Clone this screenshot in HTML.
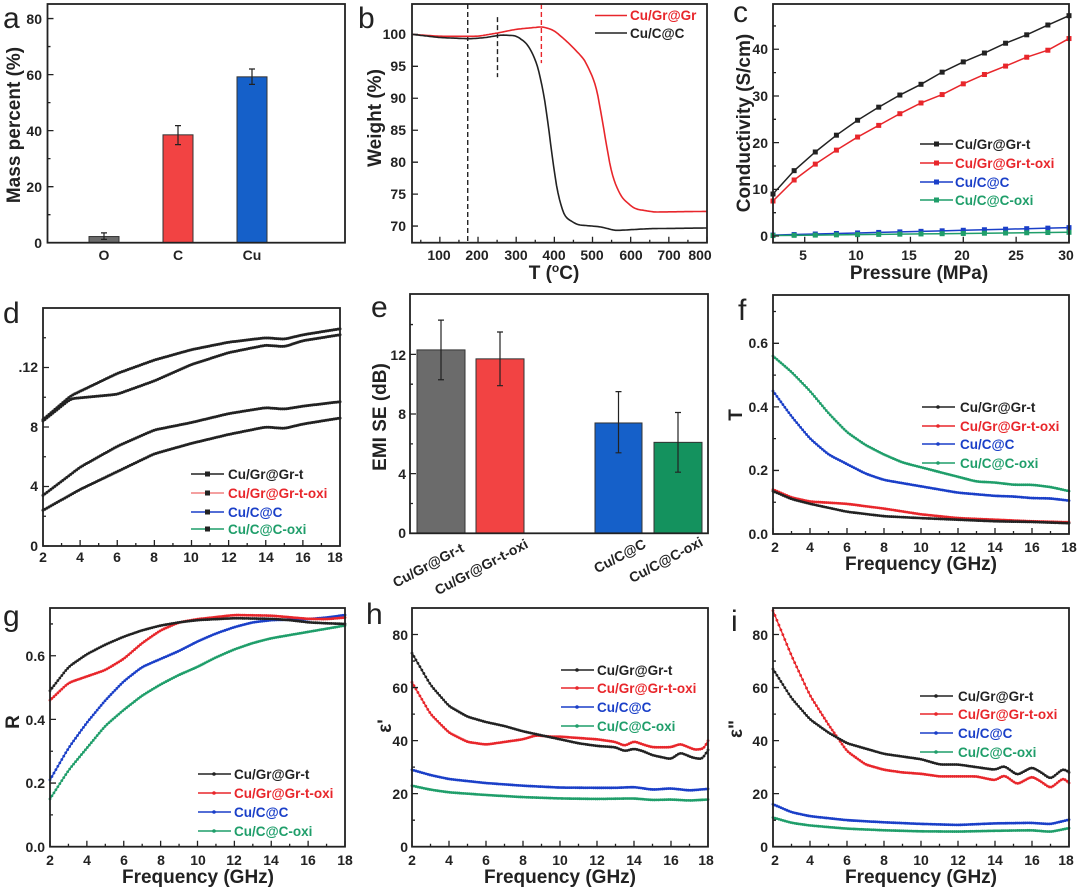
<!DOCTYPE html>
<html><head><meta charset="utf-8"><style>
html,body{margin:0;padding:0;background:#fff;}
svg{display:block;font-family:"Liberation Sans",Arial,sans-serif;}
.t{font-size:14px;font-weight:bold;fill:#222;}
.ti{font-size:19px;font-weight:bold;fill:#222;}
.L{font-size:30px;fill:#222;}
.lg{font-size:13.5px;font-weight:bold;}
</style></head><body>
<svg id="s" width="1080" height="889" viewBox="0 0 1080 889" xmlns="http://www.w3.org/2000/svg">
<rect width="1080" height="889" fill="#fff"/>
<!-- panel a -->
<text class="L" x="3" y="28">a</text>
<g class="t" text-anchor="end"><text x="42" y="248">0</text><text x="42" y="192">20</text><text x="42" y="136">40</text><text x="42" y="80">60</text><text x="42" y="24">80</text></g>
<g class="t" text-anchor="middle"><text x="104" y="260">O</text><text x="178" y="260">C</text><text x="252" y="260">Cu</text></g>
<text class="ti" transform="translate(20,125) rotate(-90)" text-anchor="middle">Mass percent (%)</text>
<!-- panel b -->
<text class="L" x="358" y="28">b</text>
<g class="t" text-anchor="end"><text x="406" y="39">100</text><text x="406" y="71">95</text><text x="406" y="103">90</text><text x="406" y="135">85</text><text x="406" y="167">80</text><text x="406" y="199">75</text><text x="406" y="231">70</text></g>
<g class="t" text-anchor="middle"><text x="439" y="260">100</text><text x="477" y="260">200</text><text x="516" y="260">300</text><text x="554" y="260">400</text><text x="592" y="260">500</text><text x="631" y="260">600</text><text x="669" y="260">700</text><text x="700" y="260">800</text></g>
<text class="ti" x="554" y="279" text-anchor="middle">T (<tspan font-size="12" dy="-7">o</tspan><tspan dy="7">C)</tspan></text>
<text class="ti" transform="translate(381,118) rotate(-90)" text-anchor="middle">Weight (%)</text>
<text class="lg" x="630" y="20" fill="#e8262b">Cu/Gr@Gr</text>
<text class="lg" x="630" y="38" fill="#222">Cu/C@C</text>
<!-- panel c -->
<text class="L" x="733" y="22">c</text>
<g class="t" text-anchor="end"><text x="768" y="241">0</text><text x="768" y="194">10</text><text x="768" y="148">20</text><text x="768" y="101">30</text><text x="768" y="54">40</text></g>
<g class="t" text-anchor="middle"><text x="803" y="260">5</text><text x="856" y="260">10</text><text x="909" y="260">15</text><text x="962" y="260">20</text><text x="1016" y="260">25</text><text x="1066" y="260">30</text></g>
<text class="ti" x="919" y="279" text-anchor="middle">Pressure (MPa)</text>
<text class="ti" transform="translate(750,123) rotate(-90)" text-anchor="middle">Conductivity (S/cm)</text>
<text class="lg" x="955" y="149" fill="#222">Cu/Gr@Gr-t</text>
<text class="lg" x="955" y="168" fill="#e8262b">Cu/Gr@Gr-t-oxi</text>
<text class="lg" x="955" y="187" fill="#1a3fc8">Cu/C@C</text>
<text class="lg" x="955" y="205" fill="#1f9e6a">Cu/C@C-oxi</text>
<!-- panel d -->
<text class="L" x="3" y="323">d</text>
<g class="t" text-anchor="end"><text x="38" y="551">0</text><text x="38" y="491">4</text><text x="38" y="432">8</text><text x="38" y="372">.12</text></g>
<g class="t" text-anchor="middle"><text x="43" y="562">2</text><text x="80" y="562">4</text><text x="117" y="562">6</text><text x="154" y="562">8</text><text x="191" y="562">10</text><text x="229" y="562">12</text><text x="266" y="562">14</text><text x="303" y="562">16</text><text x="335" y="562">18</text></g>
<text class="lg" x="228" y="479" fill="#222">Cu/Gr@Gr-t</text>
<text class="lg" x="228" y="498" fill="#e8262b">Cu/Gr@Gr-t-oxi</text>
<text class="lg" x="228" y="517" fill="#1a3fc8">Cu/C@C</text>
<text class="lg" x="228" y="534" fill="#1f9e6a">Cu/C@C-oxi</text>
<!-- panel e -->
<text class="L" x="371" y="317">e</text>
<g class="t" text-anchor="end"><text x="406" y="538">0</text><text x="406" y="479">4</text><text x="406" y="419">8</text><text x="406" y="360">12</text></g>
<text class="ti" transform="translate(386,417) rotate(-90)" text-anchor="middle">EMI SE (dB)</text>
<g class="t" text-anchor="end">
<text transform="translate(465,551) rotate(-28)">Cu/Gr@Gr-t</text>
<text transform="translate(529,547) rotate(-28)">Cu/Gr@Gr-t-oxi</text>
<text transform="translate(647,547) rotate(-28)">Cu/C@C</text>
<text transform="translate(704,545) rotate(-28)">Cu/C@C-oxi</text></g>
<!-- panel f -->
<text class="L" x="738" y="320">f</text>
<g class="t" text-anchor="end"><text x="768" y="539">0.0</text><text x="768" y="475">0.2</text><text x="768" y="412">0.4</text><text x="768" y="348">0.6</text></g>
<g class="t" text-anchor="middle"><text x="775" y="552">2</text><text x="810" y="552">4</text><text x="847" y="552">6</text><text x="884" y="552">8</text><text x="921" y="552">10</text><text x="958" y="552">12</text><text x="995" y="552">14</text><text x="1032" y="552">16</text><text x="1069" y="552">18</text></g>
<text class="ti" x="921" y="570" text-anchor="middle">Frequency (GHz)</text>
<text class="ti" transform="translate(742,415) rotate(-90)" text-anchor="middle">T</text>
<text class="lg" x="960" y="412" fill="#222">Cu/Gr@Gr-t</text>
<text class="lg" x="960" y="431" fill="#e8262b">Cu/Gr@Gr-t-oxi</text>
<text class="lg" x="960" y="449" fill="#1a3fc8">Cu/C@C</text>
<text class="lg" x="960" y="468" fill="#1f9e6a">Cu/C@C-oxi</text>
<!-- panel g -->
<text class="L" x="3" y="626">g</text>
<g class="t" text-anchor="end"><text x="45" y="852">0.0</text><text x="45" y="788">0.2</text><text x="45" y="725">0.4</text><text x="45" y="661">0.6</text></g>
<g class="t" text-anchor="middle"><text x="50" y="865">2</text><text x="87" y="865">4</text><text x="124" y="865">6</text><text x="161" y="865">8</text><text x="198" y="865">10</text><text x="234" y="865">12</text><text x="271" y="865">14</text><text x="308" y="865">16</text><text x="345" y="865">18</text></g>
<text class="ti" x="198" y="883" text-anchor="middle">Frequency (GHz)</text>
<text class="ti" transform="translate(19,722) rotate(-90)" text-anchor="middle">R</text>
<text class="lg" x="234" y="779" fill="#222">Cu/Gr@Gr-t</text>
<text class="lg" x="234" y="798" fill="#e8262b">Cu/Gr@Gr-t-oxi</text>
<text class="lg" x="234" y="817" fill="#1a3fc8">Cu/C@C</text>
<text class="lg" x="234" y="836" fill="#1f9e6a">Cu/C@C-oxi</text>
<!-- panel h -->
<text class="L" x="366" y="624">h</text>
<g class="t" text-anchor="end"><text x="408" y="852">0</text><text x="408" y="799">20</text><text x="408" y="746">40</text><text x="408" y="693">60</text><text x="408" y="640">80</text></g>
<g class="t" text-anchor="middle"><text x="412" y="865">2</text><text x="449" y="865">4</text><text x="486" y="865">6</text><text x="523" y="865">8</text><text x="560" y="865">10</text><text x="597" y="865">12</text><text x="634" y="865">14</text><text x="671" y="865">16</text><text x="706" y="865">18</text></g>
<text class="ti" x="560" y="883" text-anchor="middle">Frequency (GHz)</text>
<text class="ti" transform="translate(391,726) rotate(-90)" text-anchor="middle">ε'</text>
<text class="lg" x="597" y="675" fill="#222">Cu/Gr@Gr-t</text>
<text class="lg" x="597" y="693" fill="#e8262b">Cu/Gr@Gr-t-oxi</text>
<text class="lg" x="597" y="712" fill="#1a3fc8">Cu/C@C</text>
<text class="lg" x="597" y="731" fill="#1f9e6a">Cu/C@C-oxi</text>
<!-- panel i -->
<text class="L" x="731" y="631">i</text>
<g class="t" text-anchor="end"><text x="768" y="852">0</text><text x="768" y="799">20</text><text x="768" y="746">40</text><text x="768" y="693">60</text><text x="768" y="640">80</text></g>
<g class="t" text-anchor="middle"><text x="775" y="865">2</text><text x="810" y="865">4</text><text x="847" y="865">6</text><text x="884" y="865">8</text><text x="921" y="865">10</text><text x="958" y="865">12</text><text x="995" y="865">14</text><text x="1032" y="865">16</text><text x="1066" y="865">18</text></g>
<text class="ti" x="921" y="883" text-anchor="middle">Frequency (GHz)</text>
<text class="ti" transform="translate(742,729) rotate(-90)" text-anchor="middle">ε"</text>
<text class="lg" x="958" y="701" fill="#222">Cu/Gr@Gr-t</text>
<text class="lg" x="958" y="719" fill="#e8262b">Cu/Gr@Gr-t-oxi</text>
<text class="lg" x="958" y="738" fill="#1a3fc8">Cu/C@C</text>
<text class="lg" x="958" y="757" fill="#1f9e6a">Cu/C@C-oxi</text>
</svg>
<script>
const NS="http://www.w3.org/2000/svg",S=document.getElementById('s');
function el(t,a){const e=document.createElementNS(NS,t);for(const k in a)e.setAttribute(k,a[k]);S.appendChild(e);return e;}
const K="#222",R="#e8262b",B="#1a3fc8",G="#1f9e6a";
function mk(x0,x1,y0,y1,xa,xb,ya,yb){return{x0,x1,y0,y1,xa,xb,ya,yb,sx:v=>x0+(v-xa)/(xb-xa)*(x1-x0),sy:v=>y1-(v-ya)/(yb-ya)*(y1-y0)};}
function frame(P,xt,yt,xm,ym){
 const g=[];
 (xt||[]).forEach(v=>g.push(`M${P.sx(v)},${P.y1}v-6`));
 (xm||[]).forEach(v=>g.push(`M${P.sx(v)},${P.y1}v-3`));
 (yt||[]).forEach(v=>g.push(`M${P.x0},${P.sy(v)}h6`));
 (ym||[]).forEach(v=>g.push(`M${P.x0},${P.sy(v)}h3`));
 el('path',{d:g.join(''),stroke:K,'stroke-width':1.3,fill:'none'});
 el('rect',{x:P.x0,y:P.y0,width:P.x1-P.x0,height:P.y1-P.y0,fill:'none',stroke:K,'stroke-width':1.8});
}
function interp(p,x){for(let i=0;i<p.length-1;i++){if(x<=p[i+1][0]){const t=(x-p[i][0])/(p[i+1][0]-p[i][0]);return p[i][1]+t*(p[i+1][1]-p[i][1]);}}return p[p.length-1][1];}
function curve(P,pts,col,o){
 o=o||{};const n=o.n||150,xa=pts[0][0],xb=pts[pts.length-1][0];let v=[];
 for(let i=0;i<=n;i++){const x=xa+(xb-xa)*i/n;v.push([x,interp(pts,x)]);}
 for(let p=0;p<(o.sm==null?4:o.sm);p++){v=v.map((q,i)=>i==0||i==v.length-1?q:[q[0],(v[i-1][1]+q[1]*2+v[i+1][1])/4]);}
 const d=v.map((q,i)=>(i?'L':'M')+P.sx(q[0]).toFixed(1)+','+P.sy(q[1]).toFixed(1)).join('');
 el('path',{d,stroke:o.lc||col,'stroke-width':o.w||1.3,fill:'none'});
 if(o.mk!==false){v.forEach(q=>el('circle',{cx:P.sx(q[0]),cy:P.sy(q[1]),r:o.r||1.4,fill:o.mc||col}));}
}
function leg(x,ys,cols,mc,sq){ys.forEach((y,i)=>{el('line',{x1:x,x2:x+33,y1:y,y2:y,stroke:cols[i],'stroke-width':1.5});
 if(sq)el('rect',{x:x+14,y:y-2.5,width:5,height:5,fill:mc?mc:cols[i]});else el('circle',{cx:x+16,cy:y,r:1.8,fill:mc?mc:cols[i]});});}

// a
let P=mk(47.5,345,4,242.7,0,1,0,85.2);
function bar(P,cx,w,v,e1,e2,col){el('rect',{x:cx-w/2,y:P.sy(v),width:w,height:P.y1-P.sy(v),fill:col,stroke:'#333','stroke-width':1});
 el('path',{d:`M${cx},${P.sy(e1)}V${P.sy(e2)}M${cx-3},${P.sy(e1)}h6M${cx-3},${P.sy(e2)}h6`,stroke:'#222','stroke-width':1.2,fill:'none'});}
bar(P,104,30,2.2,1.2,3.5,'#6b6b6b');bar(P,178,30,38.5,35,41.8,'#f24343');bar(P,252,30,59.2,56.5,62,'#1560c9');
frame(P,[],[0,20,40,60,80],[],[10,30,50,70]);
// b
P=mk(412,707,4,242.7,27,800,67.4,104.75);
el('path',{d:`M${P.sx(173)},${P.y0}V${P.y1}M${P.sx(251)},${P.sy(102.7)}V${P.sy(93.3)}`,stroke:K,'stroke-width':1.4,'stroke-dasharray':'5,3',fill:'none'});
el('path',{d:`M${P.sx(366)},${P.y0}V${P.sy(95.5)}`,stroke:R,'stroke-width':1.4,'stroke-dasharray':'5,3',fill:'none'});
curve(P,[[27,100],[100,99.7],[200,99.7],[250,100.2],[300,100.8],[370,101.2],[400,100.6],[440,98.5],[480,96],[510,92],[530,85],[550,78],[575,74.5],[610,72.7],[660,72.2],[800,72.3]],R,{mk:false,w:1.6,n:200,sm:6});
curve(P,[[27,100],[100,99.5],[180,99.3],[220,99.5],[260,99.9],[300,99.8],[330,98.5],[355,95.5],[375,90],[390,83],[405,76],[425,71.5],[460,70.2],[520,69.9],[560,69.3],[650,69.6],[800,69.7]],K,{mk:false,w:1.6,n:200,sm:6});
frame(P,[100,200,300,400,500,600,700,800],[70,75,80,85,90,95,100],[50,150,250,350,450,550,650,750],[]);
el('line',{x1:595,x2:627,y1:15.5,y2:15.5,stroke:R,'stroke-width':1.6});el('line',{x1:595,x2:627,y1:33,y2:33,stroke:K,'stroke-width':1.6});
// c
P=mk(773,1069,4,242.7,2,30,-1.43,49.7);
const px=[2,4,6,8,10,12,14,16,18,20,22,24,26,28,30];
function sq(P,xs,ys,col){el('path',{d:xs.map((x,i)=>(i?'L':'M')+P.sx(x)+','+P.sy(ys[i])).join(''),stroke:col,'stroke-width':1.5,fill:'none'});
 xs.forEach((x,i)=>el('rect',{x:P.sx(x)-2.5,y:P.sy(ys[i])-2.5,width:5,height:5,fill:col}));}
sq(P,px,[9,14,18,21.6,24.8,27.6,30.2,32.5,35.1,37.3,39.2,41.3,43.1,45.2,47.2],K);
sq(P,px,[7.5,12,15.4,18.4,21.2,23.7,26.2,28.5,30.3,32.6,34.6,36.4,38.3,39.8,42.3],R);
sq(P,px,px.map(x=>0.2+1.6*(x-2)/28),B);
sq(P,px,px.map(x=>0.1+0.7*(x-2)/28),G);
frame(P,[5,10,15,20,25,30],[0,10,20,30,40],[],[5,15,25,35,45]);
leg(920,[144,163,182,200],[K,R,B,G],null,true);
// d
const F=[2,4,6,8,10,12,14,16,18],Fm=[3,5,7,9,11,13,15,17];
P=mk(43,340,308,546,2,18,0,16);
curve(P,[[2,8.5],[3.5,10.1],[6,11.6],[8,12.5],[10,13.2],[12,13.7],[14,14],[15,13.9],[16,14.2],[18,14.6]],K,{r:1.5,sm:3});
curve(P,[[2,8.4],[3.5,9.9],[6,10.2],[8,11.1],[10,12.2],[12,13],[14,13.5],[15,13.4],[16,13.8],[18,14.2]],K,{r:1.5,sm:3});
curve(P,[[2,3.4],[4,5.3],[6,6.7],[8,7.8],[10,8.3],[12,8.9],[14,9.3],[15,9.2],[16,9.4],[18,9.7]],K,{r:1.5,sm:3});
curve(P,[[2,2.4],[4,3.8],[6,5],[8,6.2],[10,6.9],[12,7.5],[14,8.0],[15,7.9],[16,8.2],[18,8.6]],K,{r:1.5,sm:3});
frame(P,F,[0,4,8,12],Fm,[2,6,10,14]);
leg(191,[474,493,512,529],[K,'#f08080',B,G],K,true);
// e
P=mk(410,708,294,533.3,0,1,0,16.05);
bar(P,441,48,12.3,10.3,14.3,'#6b6b6b');bar(P,500,48,11.7,9.9,13.5,'#f24343');bar(P,618.5,47,7.4,5.4,9.5,'#1560c9');bar(P,678,48,6.1,4.1,8.1,'#14925e');
frame(P,[],[0,4,8,12],[],[2,6,10,14]);
// f
P=mk(773,1069,295,534,2,18,0,0.752);
curve(P,[[2,0.56],[3,0.51],[4,0.45],[5,0.38],[6,0.32],[7,0.28],[8,0.25],[9,0.225],[10,0.21],[11,0.195],[12,0.18],[13,0.165],[14,0.162],[15,0.155],[16,0.155],[17,0.148],[18,0.135]],G);
curve(P,[[2,0.45],[3,0.37],[4,0.30],[5,0.25],[6,0.22],[7,0.19],[8,0.17],[9,0.16],[10,0.15],[12,0.13],[14,0.12],[15,0.118],[16,0.113],[17,0.112],[18,0.105]],B);
curve(P,[[2,0.14],[3,0.115],[4,0.102],[6,0.095],[8,0.08],[10,0.062],[12,0.05],[14,0.045],[16,0.04],[18,0.037]],R);
curve(P,[[2,0.135],[3,0.11],[4,0.095],[6,0.07],[8,0.056],[10,0.05],[12,0.045],[14,0.04],[16,0.038],[18,0.034]],K);
frame(P,F,[0,0.2,0.4,0.6],Fm,[0.1,0.3,0.5,0.7]);
leg(922,[407,426,444,463],[K,R,B,G]);
// g
P=mk(50,345,608,846.7,2,18,0,0.75);
curve(P,[[2,0.15],[3,0.24],[4,0.31],[5,0.38],[6,0.43],[7,0.475],[8,0.51],[9,0.54],[10,0.565],[11,0.595],[12,0.62],[13,0.64],[14,0.655],[15,0.665],[16,0.675],[17,0.685],[18,0.695]],G);
curve(P,[[2,0.21],[3,0.31],[4,0.39],[5,0.46],[6,0.52],[7,0.565],[8,0.59],[9,0.615],[10,0.645],[11,0.67],[12,0.69],[13,0.705],[14,0.712],[16,0.715],[17,0.72],[18,0.728]],B);
curve(P,[[2,0.46],[3,0.515],[4,0.535],[5,0.555],[6,0.59],[7,0.64],[8,0.68],[9,0.705],[10,0.715],[12,0.728],[14,0.726],[16,0.716],[17,0.715],[18,0.72]],R);
curve(P,[[2,0.49],[3,0.565],[4,0.605],[5,0.635],[6,0.66],[7,0.68],[8,0.695],[9,0.705],[10,0.712],[12,0.718],[14,0.716],[15,0.712],[16,0.705],[17,0.702],[18,0.70]],K);
frame(P,F,[0,0.2,0.4,0.6],Fm,[0.1,0.3,0.5,0.7]);
leg(198,[774,793,812,831],[K,R,B,G]);
// h
P=mk(412,708,608,846.7,2,18,0,90);
curve(P,[[2,23],[3,21.5],[4,20.5],[6,19.5],[8,18.7],[10,18.2],[12,18],[14,18.2],[15,17.6],[16,17.8],[17,17.4],[18,17.8]],G);
curve(P,[[2,29],[3,27],[4,25.5],[6,24],[8,23],[10,22.3],[12,22.2],[13,22.2],[14,22.5],[15,21.5],[16,22],[17,21.2],[18,21.8]],B);
curve(P,[[2,62],[3,50],[4,43],[5,39.5],[6,38.5],[7,39.5],[8,40.5],[8.7,42],[9.5,41.5],[10,41.5],[12,40.5],[13,39.5],[13.5,38],[14,39.8],[14.5,38.5],[15,37.5],[16,37.5],[16.5,38.8],[17.3,36.5],[17.8,37],[18,40]],R,{sm:2});
curve(P,[[2,73],[3,61],[4,53],[5,49],[6,47],[7,45.5],[8,43.5],[9,42],[10,40.5],[11,39],[12,38],[13,37.5],[13.5,36],[14,37],[14.5,36],[15,34.5],[16,33],[16.5,35.5],[17.2,33.5],[17.7,33],[18,36.5]],K,{sm:2});
frame(P,F,[0,20,40,60,80],Fm,[10,30,50,70]);
leg(561,[670,688,707,726],[K,R,B,G]);
// i
P=mk(773,1069,608,846.7,2,18,0,90);
curve(P,[[2,11],[3,9],[4,8],[6,6.8],[8,6.2],[10,5.8],[12,5.7],[14,6],[16,6.2],[17,5.6],[18,7]],G);
curve(P,[[2,16],[3,13],[4,11.5],[6,10],[8,9.2],[10,8.6],[12,8.2],[14,8.8],[16,9],[17,8.5],[18,10.2]],B);
curve(P,[[2,89],[3,72],[4,57],[5,46],[6,36],[7,31],[8,29],[9,28],[10,27.5],[11,26.5],[12,26.5],[13,26.5],[14,25],[14.5,27],[15.2,23.5],[16,26.5],[16.5,24.5],[17,22],[17.7,26],[18,24]],R,{sm:2});
curve(P,[[2,67],[3,56],[4,48],[5,43],[6,39],[7,37],[8,35],[9,34],[10,33],[11,31],[12,31],[13,30],[14,29],[14.5,30.5],[15.2,27],[16,30],[16.5,28],[17,25.5],[17.7,29.5],[18,28]],K,{sm:2});
frame(P,F,[0,20,40,60,80],Fm,[10,30,50,70]);
leg(920,[696,714,733,752],[K,R,B,G]);
</script>
</body></html>
